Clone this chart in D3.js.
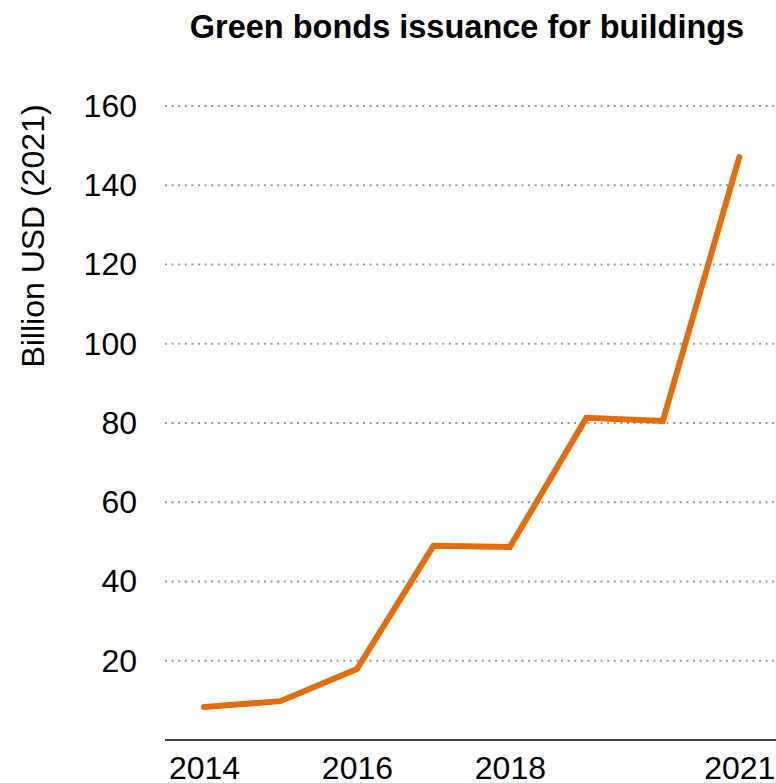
<!DOCTYPE html>
<html>
<head>
<meta charset="utf-8">
<script src="https://cdn.jsdelivr.net/npm/d3@7"></script>
<style>
  body { margin: 0; background: #fff; }
  text { font-family: "Liberation Sans", Arial, sans-serif; fill: #000; }
</style>
</head>
<body>
<script>
// chart data
var years = [2014, 2015, 2016, 2017, 2018, 2019, 2020, 2021];
var issuance = [8.3, 9.8, 17.9, 49.0, 48.7, 81.3, 80.5, 147.1];
var yTicks = [20, 40, 60, 80, 100, 120, 140, 160];
var xTicks = [2014, 2016, 2018, 2021];

var width = 776, height = 783;

var svg = d3.select("body").append("svg")
  .attr("width", width)
  .attr("height", height);

var x = d3.scaleLinear()
  .domain([2013.49, 2021.48])
  .range([165, 776]);

var y = d3.scaleLinear()
  .domain([0, 160])
  .range([740, 106]);

// title
svg.append("text")
  .attr("x", 467)
  .attr("y", 38)
  .attr("text-anchor", "middle")
  .style("font-size", "32.5px")
  .style("font-weight", "bold")
  .text("Green bonds issuance for buildings");

// y axis title
svg.append("text")
  .attr("transform", "translate(44,236) rotate(-90)")
  .attr("text-anchor", "middle")
  .style("font-size", "32px")
  .text("Billion USD (2021)");

// dotted gridlines
svg.append("g").selectAll("line")
  .data(yTicks)
  .enter()
  .append("line")
  .attr("x1", 165)
  .attr("x2", 776)
  .attr("y1", function(d) { return y(d); })
  .attr("y2", function(d) { return y(d); })
  .attr("stroke", "#999")
  .attr("stroke-width", 2)
  .attr("stroke-dasharray", "2,4.6");

// y axis labels
var yAxis = svg.append("g")
  .attr("transform", "translate(137,0)")
  .call(d3.axisLeft(y).tickValues(yTicks).tickSize(0).tickPadding(0));
yAxis.select(".domain").remove();
yAxis.selectAll("text")
  .style("font-size", "32px")
  .style("font-family", "'Liberation Sans', Arial, sans-serif")
  .attr("fill", "#000");

// x axis with baseline
var xAxis = svg.append("g")
  .attr("transform", "translate(0," + y(0) + ")")
  .call(d3.axisBottom(x).tickValues(xTicks).tickFormat(d3.format("d")).tickSize(0).tickPadding(16));
xAxis.select(".domain")
  .attr("d", "M165,0H776")
  .attr("stroke", "#000")
  .attr("stroke-width", 1.5);
xAxis.selectAll("text")
  .style("font-size", "32px")
  .style("font-family", "'Liberation Sans', Arial, sans-serif")
  .attr("fill", "#000");

// the line
var line = d3.line()
  .x(function(d, i) { return x(years[i]); })
  .y(function(d) { return y(d); });

svg.append("path")
  .datum(issuance)
  .attr("d", line)
  .attr("fill", "none")
  .attr("stroke", "#e46c0a")
  .attr("stroke-width", 6)
  .attr("stroke-linecap", "round")
  .attr("stroke-linejoin", "miter");
</script>
</body>
</html>
